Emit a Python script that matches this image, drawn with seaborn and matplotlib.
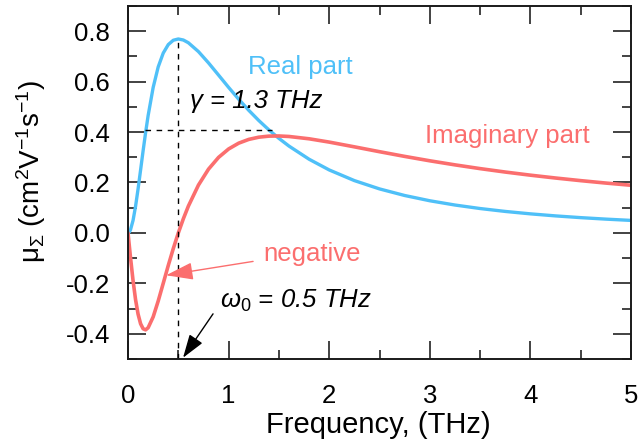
import numpy as np
import pandas as pd
import matplotlib
matplotlib.use("Agg")
import matplotlib.pyplot as plt
import seaborn as sns
from matplotlib.ticker import MultipleLocator

# Frequency samples (THz)
freq = [0.0, 0.0125, 0.025, 0.05, 0.075, 0.1, 0.125, 0.15, 0.175, 0.2, 0.25,
        0.3, 0.35, 0.4, 0.45, 0.5, 0.55, 0.6, 0.7, 0.8, 0.9, 1.0, 1.1, 1.2,
        1.3, 1.4, 1.5, 1.6, 1.8, 2.0, 2.25, 2.5, 2.75, 3.0, 3.25, 3.5, 3.75,
        4.0, 4.25, 4.5, 4.75, 5.0]

# Real part of the mobility (cm^2 V^-1 s^-1)
mu_real = [0.0, 0.0032, 0.0129, 0.0496, 0.1056, 0.1745, 0.2497, 0.3258,
           0.3986, 0.4655, 0.5771, 0.6584, 0.7132, 0.7469, 0.7642, 0.7692,
           0.7651, 0.7542, 0.7192, 0.6744, 0.6259, 0.5771, 0.5303, 0.4863,
           0.4457, 0.4086, 0.3749, 0.3444, 0.2922, 0.2497, 0.2075, 0.1745,
           0.1484, 0.1275, 0.1106, 0.0967, 0.0852, 0.0756, 0.0675, 0.0606,
           0.0547, 0.0496]

# Imaginary part of the mobility (cm^2 V^-1 s^-1)
mu_imag = [0.0, -0.0498, -0.0986, -0.1890, -0.2648, -0.3221, -0.3602,
           -0.3801, -0.3844, -0.3760, -0.3330, -0.2701, -0.1999, -0.1293,
           -0.0620, 0.0, 0.0562, 0.1064, 0.1897, 0.2529, 0.2996, 0.3330,
           0.3560, 0.3709, 0.3797, 0.3839, 0.3845, 0.3825, 0.3733, 0.3602,
           0.3414, 0.3221, 0.3035, 0.2860, 0.2699, 0.2550, 0.2414, 0.2290,
           0.2177, 0.2073, 0.1977, 0.1890]

# Marked quantities
omega0 = 0.5          # resonance frequency (THz)
peak_real = 0.7692    # real-part maximum at omega0
half_level = 0.41     # level of the width marker
width_lo, width_hi = 0.17, 1.43

yticks = [-0.4, -0.2, 0.0, 0.2, 0.4, 0.6, 0.8]
ytick_labels = ["-0.4", "-0.2", "0.0", "0.2", "0.4", "0.6", "0.8"]

blue = "#4FC0F8"
red = "#FB6E6E"

sns.set_theme(style="ticks")
plt.rcParams["font.family"] = ["Liberation Sans", "DejaVu Sans"]
plt.rcParams["mathtext.fontset"] = "custom"
plt.rcParams["mathtext.rm"] = "Liberation Sans"
plt.rcParams["mathtext.it"] = "Liberation Sans:italic"
plt.rcParams["mathtext.bf"] = "Liberation Sans:bold"
for key in ["text.color", "axes.labelcolor", "xtick.labelcolor",
            "ytick.labelcolor"]:
    plt.rcParams[key] = "black"

df = pd.DataFrame({"freq": freq, "real": mu_real, "imag": mu_imag})

fig = plt.figure(figsize=(6.42, 4.48), dpi=100)
ax = fig.add_axes([0.1994, 0.1987, 0.7836, 0.7879])

sns.lineplot(data=df, x="freq", y="real", ax=ax, color=blue, lw=2.4,
             sort=False)
sns.lineplot(data=df, x="freq", y="imag", ax=ax, color=red, lw=2.6,
             sort=False)

ax.set_xlim(0, 5)
ax.set_ylim(-0.5, 0.9)

# Guide lines at the resonance and across the peak width
dash = dict(color="black", lw=1.0, ls=(0, (4, 4)))
ax.plot([omega0, omega0], [-0.5, peak_real], **dash)
ax.plot([width_lo, width_hi], [half_level, half_level], **dash)

ax.xaxis.set_major_locator(MultipleLocator(1))
ax.xaxis.set_minor_locator(MultipleLocator(0.5))
ax.yaxis.set_minor_locator(MultipleLocator(0.1))
ax.set_yticks(yticks)
ax.set_yticklabels(ytick_labels)
ax.tick_params(which="both", direction="in", top=True, right=True,
               color="#222222", width=1.2, labelsize=18.5)
ax.tick_params(axis="x", which="major", pad=18)
ax.tick_params(axis="y", which="major", pad=13)
ax.tick_params(which="major", length=13)
ax.tick_params(which="minor", length=6.5)
for s in ax.spines.values():
    s.set_linewidth(1.4)
    s.set_color("#1a1a1a")

ax.set_xlabel("Frequency, (THz)", fontsize=21)
ax.set_ylabel("μ$_{\\Sigma}$ (cm$^2$V$^{-1}$s$^{-1}$)", fontsize=20)
ax.xaxis.set_label_coords(0.497, -0.148)
ax.yaxis.set_label_coords(-0.16, 0.531)

ax.text(1.193, 0.66, "Real part", color=blue, fontsize=18.5,
        ha="left", va="center")
ax.text(2.952, 0.385, "Imaginary part", color=red, fontsize=18.5,
        ha="left", va="center")
ax.text(1.342, -0.085, "negative", color=red, fontsize=18.5,
        ha="left", va="center")
ax.text(0.616, 0.525, "γ = 1.3 THz", color="black", fontsize=18.5,
        style="italic", ha="left", va="center")
ax.text(0.915, -0.27, r"$\omega_0$ = 0.5 THz", color="black", fontsize=18.5,
        style="italic", ha="left", va="center")

ax.annotate("", xy=(0.378, -0.168), xytext=(1.243, -0.113),
            arrowprops=dict(arrowstyle="-|>,head_length=1.4,head_width=0.45",
                            color=red, lw=1.0, shrinkA=0, shrinkB=0))
ax.annotate("", xy=(0.547, -0.495), xytext=(0.845, -0.321),
            arrowprops=dict(arrowstyle="-|>,head_length=1.2,head_width=0.4",
                            color="black", lw=1.0, shrinkA=0, shrinkB=0))

fig.savefig("out.png", dpi=100)
